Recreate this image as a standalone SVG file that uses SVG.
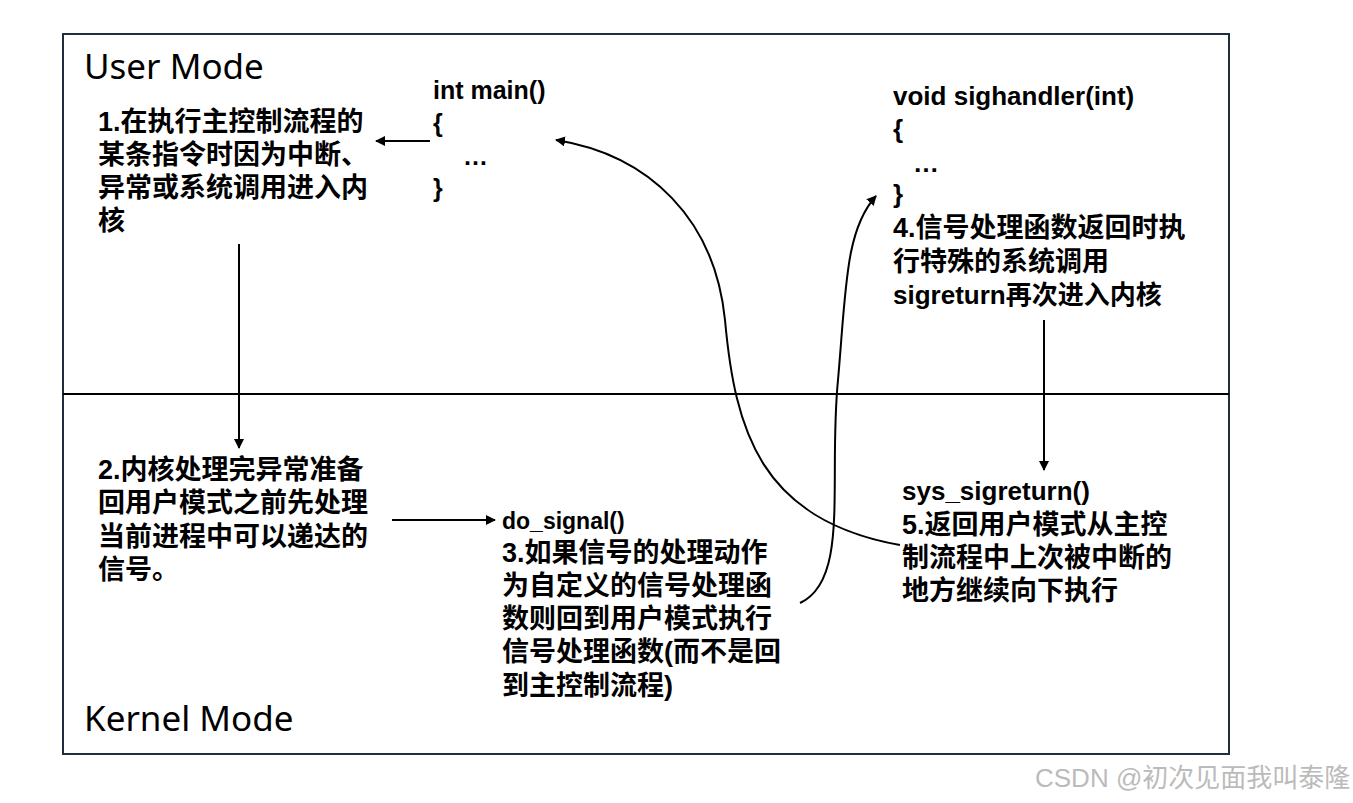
<svg xmlns="http://www.w3.org/2000/svg" width="1353" height="803" viewBox="0 0 1353 803">
<style>
.t{font-family:"Liberation Sans","Noto Sans CJK SC",sans-serif;font-weight:bold;font-size:27px;fill:#000}
.m{font-family:"Noto Sans","Liberation Sans",sans-serif;font-size:35px;fill:#000}
.c{fill:none;stroke:#000;stroke-width:2}
</style>
<defs><marker id="a" markerWidth="10" markerHeight="10" refX="9" refY="5" orient="auto" markerUnits="userSpaceOnUse"><path d="M0,0 L10,5 L0,10 z" fill="#000"/></marker></defs>
<rect width="1353" height="803" fill="#fff"/>
<rect x="63" y="34" width="1166" height="720" fill="none" stroke="#1f2d3d" stroke-width="2"/>
<line x1="63" y1="394" x2="1229" y2="394" stroke="#000" stroke-width="2"/>
<text class="m" x="84" y="79">User Mode</text>
<text class="m" x="84" y="731">Kernel Mode</text>
<g id="n1"><text class="t" x="98" y="131">1.在执行主控制流程的</text><text class="t" x="98" y="164">某条指令时因为中断、</text><text class="t" x="98" y="197">异常或系统调用进入内</text><text class="t" x="98" y="230">核</text></g>
<g id="main"><text class="t" x="433" y="99" style="font-size:25px">int main()</text><text class="t" x="433" y="132" style="font-size:25px">{</text><text class="t" x="463" y="165" style="font-size:25px">…</text><text class="t" x="433" y="197" style="font-size:25px">}</text></g>
<g id="n2"><text class="t" x="98" y="479">2.内核处理完异常准备</text><text class="t" x="98" y="512">回用户模式之前先处理</text><text class="t" x="98" y="546">当前进程中可以递达的</text><text class="t" x="98" y="579">信号。</text></g>
<g id="n3"><text class="t" x="502" y="529" style="font-size:23px">do_signal()</text><text class="t" x="502" y="562">3.如果信号的处理动作</text><text class="t" x="502" y="595">为自定义的信号处理函</text><text class="t" x="502" y="628">数则回到用户模式执行</text><text class="t" x="502" y="661">信号处理函数(而不是回</text><text class="t" x="502" y="695">到主控制流程)</text></g>
<g id="h"><text class="t" x="893" y="105" style="font-size:26px">void sighandler(int)</text><text class="t" x="893" y="138" style="font-size:26px">{</text><text class="t" x="913" y="172" style="font-size:26px">…</text><text class="t" x="893" y="203" style="font-size:26px">}</text></g>
<g id="n4"><text class="t" x="893" y="237">4.信号处理函数返回时执</text><text class="t" x="893" y="271">行特殊的系统调用</text><text class="t" x="893" y="304" style="font-size:26px">sigreturn再次进入内核</text></g>
<g id="n5"><text class="t" x="902" y="500" style="font-size:26px">sys_sigreturn()</text><text class="t" x="902" y="534">5.返回用户模式从主控</text><text class="t" x="902" y="567">制流程中上次被中断的</text><text class="t" x="902" y="600">地方继续向下执行</text></g>
<g id="connectors">
<path class="c" d="M430,141 L376,141" marker-end="url(#a)"/>
<path class="c" d="M239,244 L239,448" marker-end="url(#a)"/>
<path class="c" d="M392,520 L495,520" marker-end="url(#a)"/>
<path class="c" d="M1044,320 L1044,470" marker-end="url(#a)"/>
<path class="c" d="M900,545 C760,520 735,430 725,320 C715,220 650,155 556,140" marker-end="url(#a)"/>
<path class="c" d="M800,603 C850,580 828,480 838,380 C846,290 845,230 876,196" marker-end="url(#a)"/>
</g>
<text x="1035" y="787" style="font-family:'Liberation Sans','Noto Sans CJK SC',sans-serif;font-size:26px;fill:#bbb">CSDN @初次见面我叫泰隆</text>
</svg>
